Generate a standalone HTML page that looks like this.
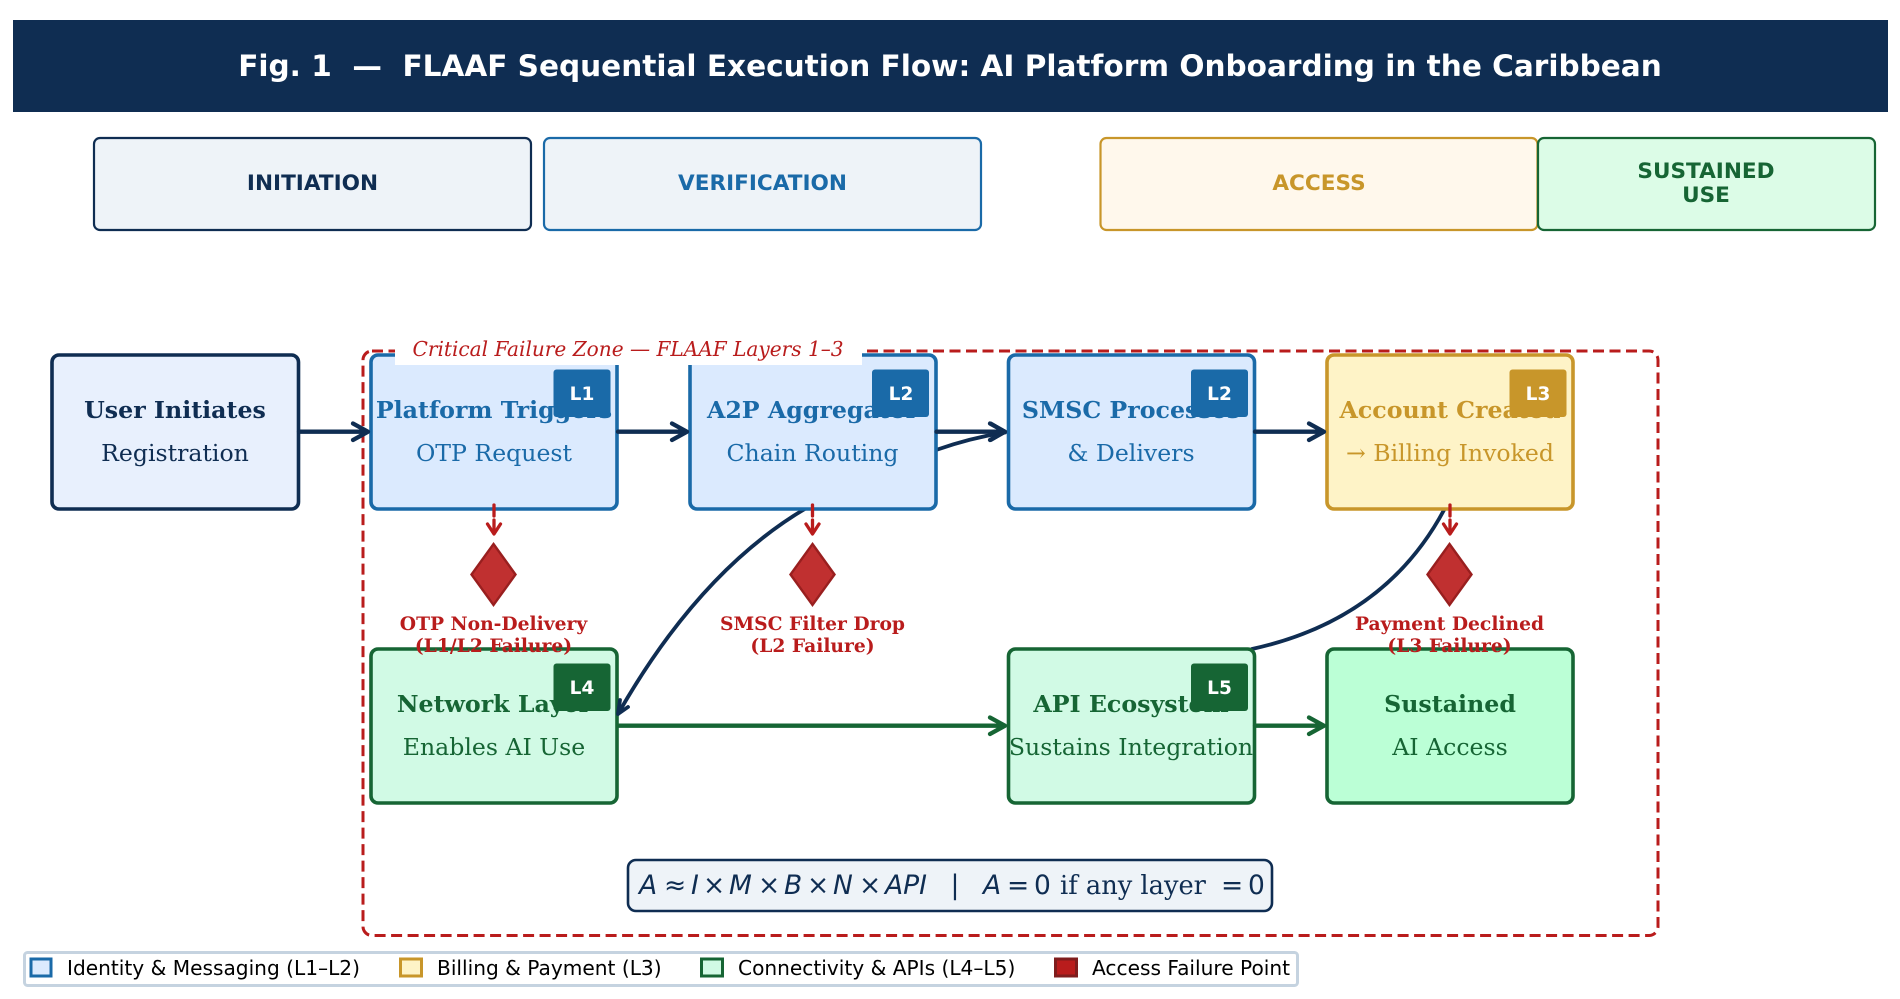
<!DOCTYPE html>
<html><head><meta charset="utf-8"><style>
html,body{margin:0;padding:0;background:#fff;width:1900px;height:999px;overflow:hidden}
svg{display:block}
.s{font-family:"DejaVu Serif","Liberation Serif",serif}
.d{font-family:"DejaVu Sans","Liberation Sans",sans-serif}
.t{font-size:23.7px;font-weight:bold;text-anchor:middle}
.u{font-size:23.6px;text-anchor:middle}
.b{font-size:18.5px;font-weight:bold;fill:#fff;text-anchor:middle}
.f{font-size:18.7px;font-weight:bold;fill:#b91c1c;text-anchor:middle}
.p{font-size:21.6px;font-weight:bold;text-anchor:middle}
.l{font-size:20.15px;fill:#000}
.e{font-size:26.5px;fill:#0f2d52}
.i{font-style:italic}
.a{fill:none;stroke-linecap:round;stroke-linejoin:round}
</style></head><body>
<svg width="1900" height="999" viewBox="0 0 1900 999" xmlns="http://www.w3.org/2000/svg">
<rect width="1900" height="999" fill="#fff"/>
<rect x="13" y="20" width="1875" height="92" fill="#0f2d52"/>
<text class="d" x="950" y="76" font-size="29.55" font-weight="bold" fill="#fff" text-anchor="middle" xml:space="preserve">Fig. 1  —  FLAAF Sequential Execution Flow: AI Platform Onboarding in the Caribbean</text>

<rect x="94" y="138" width="437" height="92" rx="6" fill="#eef3f8" stroke="#0f2d52" stroke-width="2.2"/>
<rect x="544" y="138" width="437" height="92" rx="6" fill="#eef3f8" stroke="#1a6aa8" stroke-width="2.2"/>
<rect x="1100.500" y="138" width="437" height="92" rx="6" fill="#fff8ec" stroke="#c8962a" stroke-width="2.2"/>
<rect x="1538" y="138" width="337" height="92" rx="6" fill="#dcfce7" stroke="#166534" stroke-width="2.2"/>
<text class="d p" x="312.500" y="190" fill="#0f2d52">INITIATION</text>
<text class="d p" x="762.500" y="190" fill="#1a6aa8">VERIFICATION</text>
<text class="d p" x="1319" y="190" fill="#c8962a">ACCESS</text>
<text class="d p" x="1706" y="178" fill="#166534">SUSTAINED</text>
<text class="d p" x="1706" y="202" fill="#166534">USE</text>

<rect x="363" y="351" width="1295" height="584.500" rx="9" fill="none" stroke="#b91c1c" stroke-width="3" stroke-dasharray="11 5.500"/>

<g class="a" stroke="#0f2d52" stroke-width="3.800">
<path d="M808 507Q700 570 618 714"/>
<path d="M1444 510Q1385 620 1252 649"/>
<path d="M936 450Q970 438 1005 432.500"/>
</g>

<g stroke-width="3.600">
<rect x="52" y="355" width="246.500" height="154" rx="7" fill="#e8f0fd" stroke="#0f2d52"/>
<rect x="371" y="355" width="246" height="154" rx="7" fill="#dbeafe" stroke="#1a6aa8"/>
<rect x="690" y="355" width="246" height="154" rx="7" fill="#dbeafe" stroke="#1a6aa8"/>
<rect x="1008.500" y="355" width="246" height="154" rx="7" fill="#dbeafe" stroke="#1a6aa8"/>
<rect x="1327" y="355" width="246" height="154" rx="7" fill="#fef3c7" stroke="#c8962a"/>
<rect x="371" y="649" width="246" height="154" rx="7" fill="#d1fae5" stroke="#166534"/>
<rect x="1008.500" y="649" width="246" height="154" rx="7" fill="#d1fae5" stroke="#166534"/>
<rect x="1327" y="649" width="246" height="154" rx="7" fill="#bbffd6" stroke="#166534"/>
</g>

<text class="s t" x="175" y="418" fill="#0f2d52">User Initiates</text>
<text class="s u" x="175" y="461" fill="#0f2d52">Registration</text>
<text class="s t" x="494" y="418" fill="#1a6aa8">Platform Triggers</text>
<text class="s u" x="494" y="461" fill="#1a6aa8">OTP Request</text>
<text class="s t" x="812.500" y="418" fill="#1a6aa8">A2P Aggregator</text>
<text class="s u" x="812.500" y="461" fill="#1a6aa8">Chain Routing</text>
<text class="s t" x="1131" y="418" fill="#1a6aa8">SMSC Processes</text>
<text class="s u" x="1131" y="461" fill="#1a6aa8">&amp; Delivers</text>
<text class="s t" x="1450" y="418" fill="#c8962a">Account Created</text>
<text class="s u" x="1450" y="461" fill="#c8962a">→ Billing Invoked</text>
<text class="s t" x="494" y="712" fill="#166534">Network Layer</text>
<text class="s u" x="494" y="755" fill="#166534">Enables AI Use</text>
<text class="s t" x="1131" y="712" fill="#166534">API Ecosystem</text>
<text class="s u" x="1131" y="755" fill="#166534">Sustains Integration</text>
<text class="s t" x="1450" y="712" fill="#166534">Sustained</text>
<text class="s u" x="1450" y="755" fill="#166534">AI Access</text>

<g fill="#1a6aa8">
<rect x="553.500" y="369.500" width="57" height="47.500" rx="3"/>
<rect x="872" y="369.500" width="57" height="47.500" rx="3"/>
<rect x="1191" y="369.500" width="57" height="47.500" rx="3"/>
</g>
<rect x="1509.500" y="369.500" width="57" height="47.500" rx="3" fill="#c8962a"/>
<rect x="553.500" y="663.500" width="57" height="47.500" rx="3" fill="#166534"/>
<rect x="1191" y="663.500" width="57" height="47.500" rx="3" fill="#166534"/>
<text class="d b" x="582" y="400">L1</text>
<text class="d b" x="901" y="400">L2</text>
<text class="d b" x="1219.500" y="400">L2</text>
<text class="d b" x="1538" y="400">L3</text>
<text class="d b" x="582" y="694">L4</text>
<text class="d b" x="1219.500" y="694">L5</text>

<g class="a" stroke="#0f2d52" stroke-width="4.300">
<path d="M299 431.700H367M353 423.500L368 431.700L353 440"/>
<path d="M618 431.700H686M672 423.500L687 431.700L672 440"/>
<path d="M936.500 431.700H1004M990 423.500L1005 431.700L990 440"/>
<path d="M1255 431.700H1323M1309 423.500L1324 431.700L1309 440"/>
</g>
<path class="a" stroke="#0f2d52" stroke-width="3.800" d="M628 707L618 714L620 700"/>
<path class="a" stroke="#0f2d52" stroke-width="3.800" d="M991 423.500L1005 431.700L991 440"/>
<g class="a" stroke="#166534" stroke-width="4.300">
<path d="M618 725.700H1004M990 717.500L1005 725.700L990 734"/>
<path d="M1255 725.700H1323M1309 717.500L1324 725.700L1309 734"/>
</g>

<g stroke="#b91c1c" stroke-width="3.300" fill="none" stroke-linecap="round" stroke-linejoin="round">
<path d="M494 505V533" stroke-dasharray="11 4"/><path d="M487.500 524L494 534L500.500 524"/>
<path d="M812.500 505V533" stroke-dasharray="11 4"/><path d="M806 524L812.500 534L819 524"/>
<path d="M1450 505V533" stroke-dasharray="11 4"/><path d="M1443.500 524L1450 534L1456.500 524"/>
</g>
<g fill="#c03030" stroke="#991f1f" stroke-width="2.400">
<polygon points="493.500,544 515.500,574.500 493.500,605 471.500,574.500"/>
<polygon points="812.500,544 834.500,574.500 812.500,605 790.500,574.500"/>
<polygon points="1449.500,544 1471.500,574.500 1449.500,605 1427.500,574.500"/>
</g>
<text class="s f" x="493.500" y="630">OTP Non-Delivery</text>
<text class="s f" x="493.500" y="652">(L1/L2 Failure)</text>
<text class="s f" x="812.500" y="630">SMSC Filter Drop</text>
<text class="s f" x="812.500" y="652">(L2 Failure)</text>
<text class="s f" x="1449.500" y="630">Payment Declined</text>
<text class="s f" x="1449.500" y="652">(L3 Failure)</text>

<rect x="395" y="338" width="467" height="27" fill="#fff"/>
<text class="s" x="412.500" y="356" font-size="20.1" font-style="italic" fill="#b91c1c">Critical Failure Zone — FLAAF Layers 1–3</text>

<rect x="628" y="860" width="644" height="51" rx="8" fill="#eef3f8" stroke="#0f2d52" stroke-width="2.600"/>
<g class="d e">
<text class="i" x="639" y="894">A</text><text x="664" y="894">≈</text><text class="i" x="691" y="894">I</text><text x="703" y="894">×</text><text class="i" x="729" y="894">M</text><text x="758" y="894">×</text><text class="i" x="784" y="894">B</text><text x="807" y="894">×</text><text class="i" x="833" y="894">N</text><text x="859" y="894">×</text><text class="i" x="885" y="894">API</text>
<text x="955" y="894" text-anchor="middle">|</text>
<text class="i" x="983" y="894">A</text><text x="1007" y="894">=</text><text x="1034" y="894">0</text>
<text x="1221" y="894">=</text><text x="1248" y="894">0</text>
</g>
<text class="s e" x="1060" y="894" style="font-size:25.7px">if any layer</text>

<rect x="24.500" y="952.500" width="1273" height="33" rx="3" fill="#fff" stroke="#c5d3e0" stroke-width="3"/>
<rect x="31" y="959" width="20" height="17" fill="#dbeafe" stroke="#1a6aa8" stroke-width="3"/>
<rect x="400.500" y="959" width="21" height="17" fill="#fef3c7" stroke="#c8962a" stroke-width="3"/>
<rect x="701.500" y="959" width="21" height="17" fill="#d1fae5" stroke="#166534" stroke-width="3"/>
<rect x="1055.500" y="959" width="21" height="17" fill="#b91c1c" stroke="#7f1d1d" stroke-width="3"/>
<text class="d l" x="67" y="975">Identity &amp; Messaging (L1–L2)</text>
<text class="d l" x="437" y="975">Billing &amp; Payment (L3)</text>
<text class="d l" x="738" y="975">Connectivity &amp; APIs (L4–L5)</text>
<text class="d l" x="1092" y="975">Access Failure Point</text>
</svg>
</body></html>
